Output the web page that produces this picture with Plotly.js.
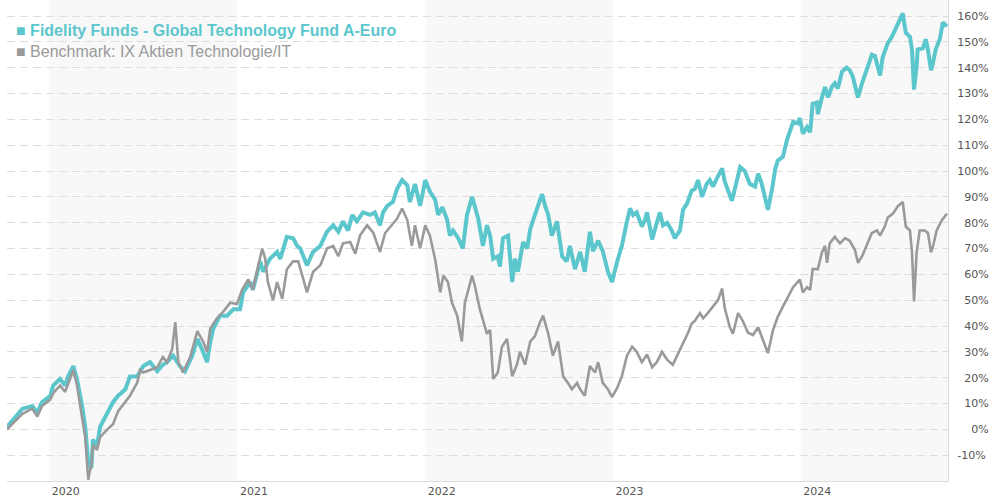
<!DOCTYPE html>
<html>
<head>
<meta charset="utf-8">
<script src="https://cdn.plot.ly/plotly-3.0.1.min.js"></script>
<style>
html,body{margin:0;padding:0;background:#fff;}
#chart{width:990px;height:500px;}
</style>
</head>
<body>
<div id="chart"></div>
<script>
// Fund: Fidelity Funds - Global Technology Fund A-Euro (cumulative performance, %)
const fundDates = ["2019-10-11","2019-10-27","2019-11-10","2019-11-29","2019-12-09","2019-12-18","2020-01-03","2020-01-09","2020-01-22","2020-02-01","2020-02-07","2020-02-17","2020-02-24","2020-03-05","2020-03-11","2020-03-17","2020-03-23","2020-03-26","2020-04-03","2020-04-09","2020-04-23","2020-05-04","2020-05-14","2020-05-28","2020-06-06","2020-06-20","2020-07-02","2020-07-15","2020-07-29","2020-08-09","2020-08-17","2020-08-29","2020-09-11","2020-09-21","2020-10-05","2020-10-15","2020-10-24","2020-11-03","2020-11-09","2020-11-15","2020-11-28","2020-12-12","2020-12-24","2021-01-06","2021-01-12","2021-01-26","2021-01-31","2021-02-08","2021-02-14","2021-02-20","2021-03-05","2021-03-19","2021-03-25","2021-04-07","2021-04-19","2021-04-27","2021-05-03","2021-05-16","2021-05-28","2021-06-11","2021-06-24","2021-07-06","2021-07-16","2021-07-25","2021-08-04","2021-08-12","2021-08-21","2021-09-02","2021-09-16","2021-09-25","2021-10-05","2021-10-11","2021-10-19","2021-10-30","2021-11-07","2021-11-17","2021-11-27","2021-12-02","2021-12-12","2021-12-22","2022-01-01","2022-01-10","2022-01-20","2022-01-26","2022-02-03","2022-02-12","2022-02-18","2022-02-24","2022-03-06","2022-03-15","2022-03-23","2022-04-02","2022-04-08","2022-04-14","2022-04-23","2022-05-01","2022-05-07","2022-05-13","2022-05-22","2022-05-26","2022-06-01","2022-06-11","2022-06-19","2022-06-24","2022-06-30","2022-07-10","2022-07-18","2022-07-24","2022-08-02","2022-08-08","2022-08-16","2022-08-22","2022-08-28","2022-09-04","2022-09-14","2022-09-24","2022-10-03","2022-10-09","2022-10-19","2022-10-29","2022-11-07","2022-11-17","2022-11-23","2022-12-03","2022-12-12","2022-12-22","2022-12-30","2023-01-09","2023-01-18","2023-01-28","2023-02-03","2023-02-09","2023-02-16","2023-02-26","2023-03-04","2023-03-08","2023-03-18","2023-03-27","2023-04-02","2023-04-08","2023-04-16","2023-04-25","2023-05-01","2023-05-11","2023-05-17","2023-05-25","2023-06-03","2023-06-09","2023-06-15","2023-06-23","2023-07-02","2023-07-08","2023-07-14","2023-07-24","2023-08-01","2023-08-06","2023-08-12","2023-08-20","2023-08-30","2023-09-05","2023-09-14","2023-09-24","2023-10-04","2023-10-10","2023-10-17","2023-10-23","2023-10-29","2023-11-06","2023-11-12","2023-11-17","2023-11-27","2023-12-05","2023-12-11","2023-12-17","2023-12-26","2023-12-30","2024-01-05","2024-01-13","2024-01-19","2024-01-24","2024-02-01","2024-02-03","2024-02-11","2024-02-17","2024-02-23","2024-03-01","2024-03-07","2024-03-13","2024-03-21","2024-03-30","2024-04-05","2024-04-11","2024-04-19","2024-04-21","2024-04-29","2024-05-08","2024-05-18","2024-05-24","2024-06-03","2024-06-08","2024-06-18","2024-06-26","2024-07-06","2024-07-11","2024-07-17","2024-07-23","2024-07-31","2024-08-04","2024-08-08","2024-08-13","2024-08-15","2024-08-25","2024-08-31","2024-09-04","2024-09-10","2024-09-14","2024-09-19","2024-09-27","2024-10-03","2024-10-11"];
const fundValues = [1,5,8,9,6.5,10.5,13,17,19.5,17,20.5,24.5,19.5,9,1,-13,-15,-4,-6.5,1,6.5,10.5,13,15.5,20.5,20.5,24.5,26,22.5,25,26,28.5,24.5,22.5,28.5,35,31,26,33.8,39,44,44,46.5,46.5,53,57,54,61,65,61,66,68.7,66,74.5,74,71,70,63.5,68.7,71,76.5,79,76.5,80.5,77,83,80.5,84,83,84,79,84,86.5,88,93,96.5,94.5,88,95,86.5,96.5,92,89,83,86,81.5,75,77,74,70,83,90,86,81.5,71,79,75,66,67,63,74,75,57,66,61,72.5,70,77.5,83,86.5,91,86.5,83,75,80.5,67,65,71,62,68.7,61,76.5,69,73,69,61,57,65,71,80.5,85.5,83,84,78.5,81,84,73.5,80,84,79,80,77,74,77,85,87.5,92.5,93,96.5,90,95,96.5,94,98,101,96,92.5,88.5,96.5,101.5,100,95,94,99,95,90,85,93,100.5,104,105.5,112,116,119,118.5,120.5,114.5,117,115,126,126.5,122,128.5,132.5,128.5,132.5,134,132,138.5,140,139,136.5,130,128.5,134,139,145,144.5,137,144,149.5,152,156,158,161,153.5,152,147,131.5,140.5,147,147.5,151,147,139,142,147,151,157.5,156];

// Benchmark: IX Aktien Technologie/IT (cumulative performance, %)
const benchDates = ["2019-10-11","2019-10-27","2019-11-10","2019-11-29","2019-12-09","2019-12-18","2020-01-03","2020-01-09","2020-01-22","2020-02-01","2020-02-07","2020-02-17","2020-02-24","2020-03-05","2020-03-11","2020-03-17","2020-03-19","2020-03-23","2020-03-26","2020-04-03","2020-04-09","2020-04-23","2020-05-04","2020-05-14","2020-05-28","2020-06-06","2020-06-20","2020-06-26","2020-07-02","2020-07-15","2020-07-29","2020-08-09","2020-08-17","2020-08-27","2020-09-02","2020-09-08","2020-09-17","2020-10-01","2020-10-15","2020-10-26","2020-11-03","2020-11-09","2020-11-22","2020-12-04","2020-12-18","2020-12-31","2021-01-10","2021-01-22","2021-01-31","2021-02-10","2021-02-18","2021-02-24","2021-03-01","2021-03-11","2021-03-19","2021-03-29","2021-04-07","2021-04-19","2021-04-29","2021-05-07","2021-05-16","2021-05-28","2021-06-11","2021-06-24","2021-07-06","2021-07-16","2021-07-25","2021-08-08","2021-08-18","2021-08-27","2021-09-10","2021-09-22","2021-10-05","2021-10-15","2021-10-25","2021-11-07","2021-11-17","2021-11-27","2021-12-06","2021-12-12","2021-12-22","2022-01-01","2022-01-10","2022-01-20","2022-01-30","2022-02-05","2022-02-14","2022-02-22","2022-03-04","2022-03-13","2022-03-19","2022-04-02","2022-04-08","2022-04-17","2022-05-01","2022-05-07","2022-05-13","2022-05-22","2022-05-30","2022-06-09","2022-06-19","2022-06-28","2022-07-04","2022-07-14","2022-07-24","2022-08-02","2022-08-12","2022-08-18","2022-08-28","2022-09-06","2022-09-16","2022-09-26","2022-10-05","2022-10-13","2022-10-23","2022-10-29","2022-11-07","2022-11-17","2022-11-27","2022-12-03","2022-12-12","2022-12-22","2022-12-30","2023-01-09","2023-01-18","2023-01-28","2023-02-07","2023-02-16","2023-02-26","2023-03-04","2023-03-08","2023-03-18","2023-03-27","2023-04-06","2023-04-16","2023-04-27","2023-05-07","2023-05-17","2023-05-27","2023-06-03","2023-06-09","2023-06-19","2023-06-25","2023-07-04","2023-07-14","2023-07-24","2023-08-01","2023-08-06","2023-08-16","2023-08-22","2023-09-01","2023-09-10","2023-09-20","2023-09-30","2023-10-10","2023-10-19","2023-10-29","2023-11-08","2023-11-17","2023-11-27","2023-12-07","2023-12-17","2023-12-30","2024-01-05","2024-01-13","2024-01-19","2024-01-24","2024-02-03","2024-02-11","2024-02-17","2024-02-21","2024-02-26","2024-03-07","2024-03-17","2024-03-27","2024-04-05","2024-04-15","2024-04-21","2024-04-29","2024-05-08","2024-05-18","2024-05-28","2024-06-03","2024-06-12","2024-06-18","2024-06-28","2024-07-08","2024-07-17","2024-07-23","2024-07-31","2024-08-04","2024-08-08","2024-08-13","2024-08-19","2024-08-29","2024-09-04","2024-09-10","2024-09-14","2024-09-21","2024-10-01","2024-10-11"];
const benchValues = [0,3,6,8,5,9,11.5,14,17,14.5,18,23,17,5,-3,-19.5,-17,-14,-6,-8,-3,0,2,7,10.5,13,18,23,22,23,24,28,26,31,41.5,26,22,28,38,34,30,39,43,45.5,49,48.5,54,58,54,63,70,66,57,50,57,50.5,62,65,65,59.5,53,61,63.5,70,71,67,72,72.5,68,75,79,76,68.7,76,78.5,81.5,85.5,81,71,79,70,79,75,66,53,59.5,57,49,44,34,49,59.5,55,46.5,37,38.5,19.5,22,32,35,20.5,25,30,25,34,36,41.5,44,37,28.5,34,20.5,18,15.5,18,15.5,13,24.5,22,26,18,15.5,12.5,16,20.5,28.5,32,30,26,28,29,24,26,30,27,25,29,33.5,37.5,41,42,45,43,45,47.5,50,54.5,47,39.5,37,45,42,37.5,36.5,39.5,34.5,29.5,38.5,43.5,47.5,51.5,55,58,53,55,54,62,62,68.5,71,64.5,72,74.5,72,74,73,69.5,64.5,67,71,76,77,75,78.5,82,83.5,86.5,88,78.5,77,68.5,49.5,68.5,77,77,76,68.5,71,77,81,83.5];

// Axis / label data
const yTickValues = [-10,0,10,20,30,40,50,60,70,80,90,100,110,120,130,140,150,160];
const yearLabels = [2020,2021,2022,2023,2024];
const shadedYears = [2020,2022,2024];
const xRange = ["2019-10-11","2024-10-13"];
const yRange = [-20,166.2];

const fundName = "Fidelity Funds - Global Technology Fund A-Euro";
const benchName = "Benchmark: IX Aktien Technologie/IT";
const fundColor = "#5cc6cd";
const benchColor = "#9a9a9a";

const traces = [
  {x: fundDates, y: fundValues, type: "scatter", mode: "lines", name: fundName,
   line: {color: fundColor, width: 4}, showlegend: false, hoverinfo: "x+y"},
  {x: benchDates, y: benchValues, type: "scatter", mode: "lines", name: benchName,
   line: {color: benchColor, width: 2.6}, showlegend: false, hoverinfo: "x+y"}
];

// right-align tick labels with figure spaces
const yTickText = yTickValues.map(v => {
  const s = v + "%";
  return "\u2007".repeat(Math.max(0, 4 - s.length)) + s;
});

const shapes = shadedYears.map(yr => ({
  type: "rect", xref: "x", yref: "paper", layer: "below",
  x0: yr + "-01-01", x1: (yr === 2024 ? xRange[1] : (yr + 1) + "-01-01"),
  y0: 0, y1: 1, fillcolor: "#f8f8f8", line: {width: 0}
}));

const layout = {
  width: 990, height: 500,
  margin: {l: 7, r: 42, t: 0, b: 19, pad: 0},
  paper_bgcolor: "#ffffff", plot_bgcolor: "#ffffff",
  showlegend: false,
  font: {family: "DejaVu Sans, Verdana, sans-serif", size: 11, color: "#555"},
  xaxis: {
    type: "date", range: xRange, showgrid: false, zeroline: false,
    showline: true, linecolor: "#dcdcdc", linewidth: 1,
    tickvals: yearLabels.map(y => y + "-02-02"),
    ticktext: yearLabels.map(String),
    ticks: "", ticklabelstandoff: 0,
    tickfont: {family: "DejaVu Sans, Verdana, sans-serif", size: 11, color: "#555"},
    fixedrange: true
  },
  yaxis: {
    side: "right", range: yRange, zeroline: false,
    showgrid: true, gridcolor: "#dddddd", griddash: "8px,5px", gridwidth: 1,
    showline: true, linecolor: "#dcdcdc", linewidth: 1,
    tickvals: yTickValues, ticktext: yTickText,
    ticks: "", ticklabelstandoff: 6,
    tickfont: {family: "DejaVu Sans, Verdana, sans-serif", size: 11, color: "#555"},
    fixedrange: true
  },
  shapes: shapes,
  annotations: [
    {xref: "paper", yref: "paper", x: 0.0075, y: 0.9376, xanchor: "left", yanchor: "middle",
     showarrow: false, align: "left",
     text: "<b>\u25A0 " + fundName + "</b>",
     font: {family: "Liberation Sans, Arial, sans-serif", size: 16, color: fundColor}},
    {xref: "paper", yref: "paper", x: 0.0075, y: 0.892, xanchor: "left", yanchor: "middle",
     showarrow: false, align: "left",
     text: "\u25A0 " + benchName,
     font: {family: "Liberation Sans, Arial, sans-serif", size: 16, color: benchColor}}
  ]
};

Plotly.newPlot("chart", traces, layout, {displayModeBar: false, staticPlot: true});
</script>
</body>
</html>
